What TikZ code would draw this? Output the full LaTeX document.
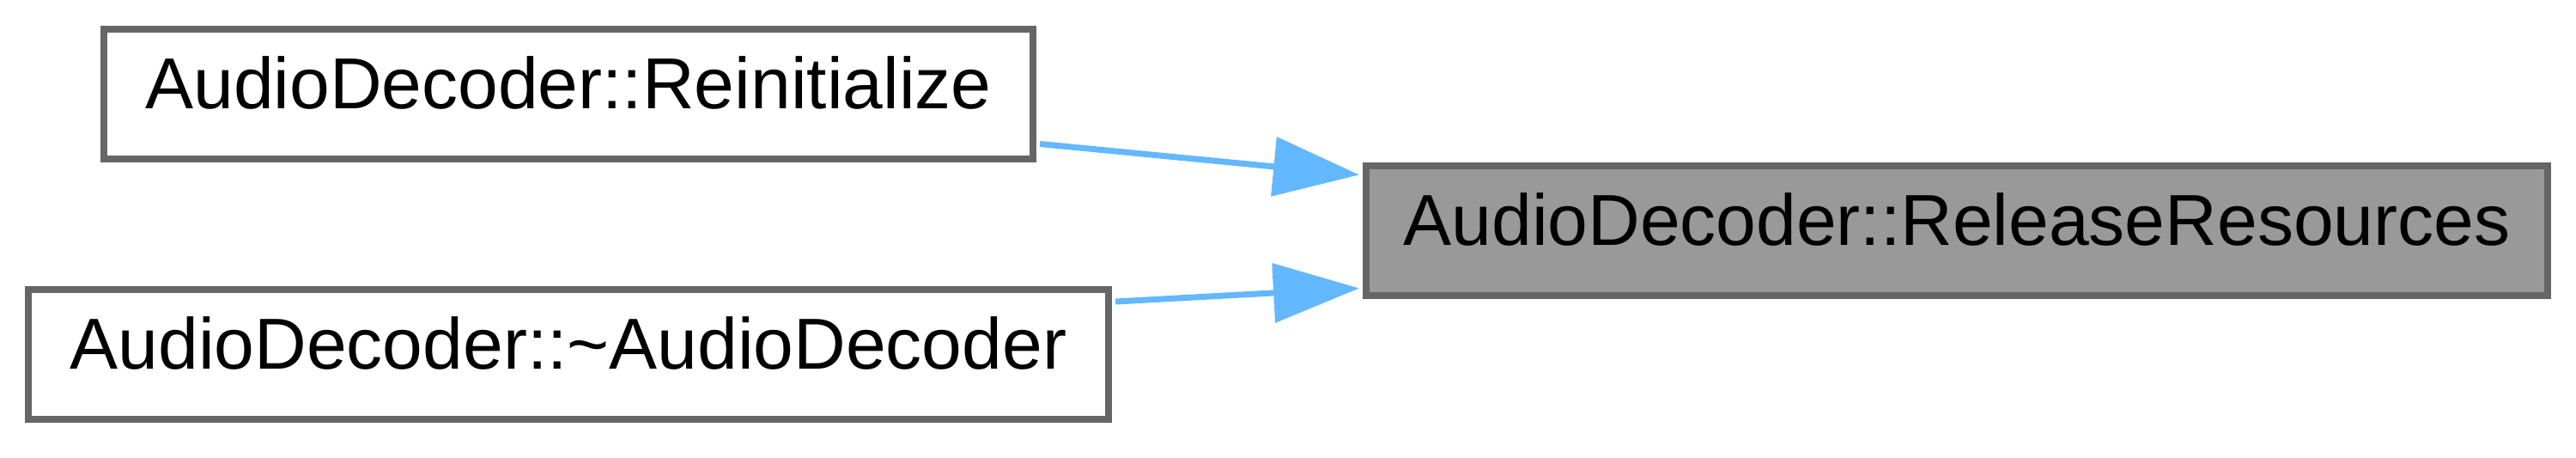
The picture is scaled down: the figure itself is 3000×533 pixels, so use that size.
\documentclass[tikz,border=0pt]{standalone}
\usepackage{fontspec}
\setmainfont{Liberation Sans}
\usetikzlibrary{arrows.meta,calc}
\definecolor{edgegray}{HTML}{666666}
\definecolor{fillgray}{HTML}{999999}
\definecolor{arrowblue}{HTML}{63B8FF}
\begin{document}
\begin{tikzpicture}[x=0.25pt,y=-0.25pt,
  box/.style={draw=edgegray, line width=2pt, inner sep=0pt, fill=white,
    font=\fontsize{21}{25}\selectfont, text height=1em, text depth=0.153em,
    minimum height=37.75pt, anchor=center},
  mainbox/.style={box, fill=fillgray},
  link/.style={draw=arrowblue, line width=1.75pt,
    -{Triangle[length=25pt,width=17pt]}}]
  \fill[white] (0,0) rectangle (3000,533);
  \useasboundingbox (0,0) rectangle (3000,533);
  \node[box, minimum width=270.5pt] (r) at (662,110) {AudioDecoder::Reinitialize};
  \node[box, minimum width=314.5pt] (d) at (662,412.5) {AudioDecoder::\textasciitilde AudioDecoder};
  \node[mainbox, minimum width=344pt] (m) at (2279,268.5) {AudioDecoder::ReleaseResources};
  \draw[link] ($(r.south east)+(4,-22)$) -- ($(m.west)+(-4,-65)$);
  \draw[link] ($(d.north east)+(4,18)$) -- ($(m.west)+(-4,67)$);
\end{tikzpicture}
\end{document}
